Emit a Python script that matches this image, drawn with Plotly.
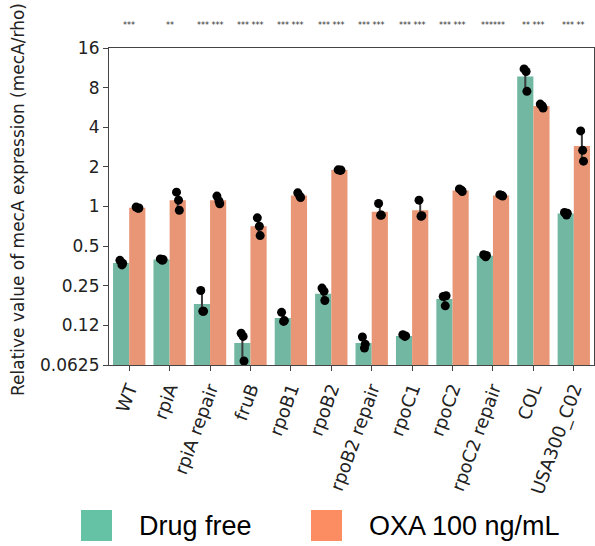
import plotly.graph_objects as go

categories = ["WT", "rpiA", "rpiA repair", "fruB", "rpoB1", "rpoB2", "rpoB2 repair",
              "rpoC1", "rpoC2", "rpoC2 repair", "COL", "USA300_C02"]
drug_free = [0.372, 0.395, 0.182, 0.092, 0.142, 0.217, 0.092, 0.104, 0.198, 0.423, 9.7, 0.884]
oxa_100 = [0.977, 1.117, 1.117, 0.708, 1.213, 1.89, 0.911, 0.937, 1.324, 1.213, 5.81, 2.88]
drug_free_pts = [[0.39, 0.36, 0.37], [0.40, 0.39, 0.395], [0.23, 0.16, 0.16], [0.109, 0.103, 0.067],
                 [0.157, 0.134, 0.136], [0.24, 0.227, 0.193], [0.102, 0.084, 0.09], [0.106, 0.103, 0.104],
                 [0.207, 0.176, 0.21], [0.43, 0.415, 0.425], [11.1, 10.6, 7.5], [0.90, 0.86, 0.89]]
oxa_pts = [[0.99, 0.97, 0.975], [1.285, 1.117, 0.937], [1.20, 1.10, 1.05], [0.82, 0.708, 0.601],
           [1.27, 1.20, 1.17], [1.90, 1.88, 1.89], [1.054, 0.858, 0.86], [1.117, 0.843, 0.85],
           [1.36, 1.33, 1.30], [1.23, 1.21, 1.20], [6.0, 5.8, 5.6], [3.75, 2.67, 2.21]]
star_labels = ["***", "**", "*** ***", "*** ***", "*** ***", "*** ***", "*** ***", "*** ***",
               "*** ***", "******", "** ***", "*** **"]
y_tickvals = [0.0625, 0.125, 0.25, 0.5, 1, 2, 4, 8, 16]
y_ticktext = ["0.0625", "0.12", "0.25", "0.5", "1", "2", "4", "8", "16"]

GREEN_BAR, ORANGE_BAR = "#71b7a1", "#e89675"
GREEN_LEG, ORANGE_LEG = "#66c2a5", "#fc8d62"

W, H = 595, 546
L, R, T, B = 109, 1, 48, 181
PW, PH = W - L - R, H - T - B

def px(x):
    return (x - L) / PW

def py(y):
    return (H - B - y) / PH

fig = go.Figure()
idx = list(range(len(categories)))
jit = [-0.03, 0.02, 0.04]

for vals, pts, off, col in [(drug_free, drug_free_pts, -0.2, GREEN_BAR), (oxa_100, oxa_pts, 0.2, ORANGE_BAR)]:
    fig.add_trace(go.Bar(
        x=[i + off for i in idx], y=vals, width=0.4, marker=dict(color=col, line=dict(width=0)),
        error_y=dict(type="data", symmetric=False,
                     array=[max(p) - v for p, v in zip(pts, vals)],
                     arrayminus=[v - min(p) for p, v in zip(pts, vals)],
                     color="#3a3a3a", thickness=2, width=0),
        showlegend=False))
    xs, ys = [], []
    for i, p in zip(idx, pts):
        for j, v in enumerate(p):
            xs.append(i + off + jit[j])
            ys.append(v)
    fig.add_trace(go.Scatter(x=xs, y=ys, mode="markers",
                             marker=dict(color="black", size=9), showlegend=False))

for i, s in zip(idx, star_labels):
    fig.add_annotation(x=i, y=py(25), xref="x", yref="paper", text=s, showarrow=False,
                       font=dict(size=8, color="#333", family="DejaVu Sans"), yanchor="middle")

fig.add_annotation(x=px(18), y=py(200), xref="paper", yref="paper",
                   text="Relative value of mecA expression (mecA/rho)", textangle=-90,
                   showarrow=False, font=dict(size=17, color="#222", family="DejaVu Sans"),
                   xanchor="center", yanchor="middle")

# legend
for x0, col, label, tx in [(81, GREEN_LEG, "Drug free", 137), (311, ORANGE_LEG, "OXA 100 ng/mL", 367)]:
    fig.add_shape(type="rect", xref="paper", yref="paper", x0=px(x0), x1=px(x0 + 31),
                  y0=py(541), y1=py(510), fillcolor=col, line=dict(width=0))
    fig.add_annotation(x=px(tx), y=py(526), xref="paper", yref="paper", text=label,
                       showarrow=False, xanchor="left", yanchor="middle",
                       font=dict(size=27, color="black", family="Liberation Sans"))

fig.update_layout(
    width=W, height=H, margin=dict(l=L, r=R, t=T, b=B),
    plot_bgcolor="white", paper_bgcolor="white", barmode="overlay",
    font=dict(family="DejaVu Sans", size=16, color="#222"),
    xaxis=dict(range=[-0.5, 11.5], tickvals=idx, ticktext=categories, tickangle=-70,
               ticks="outside", ticklen=5, tickcolor="#444", showline=True, linecolor="#444",
               linewidth=1.2, mirror=True, showgrid=False, zeroline=False,
               tickfont=dict(size=18, family="DejaVu Sans")),
    yaxis=dict(type="log", range=[-1.2041, 1.2041], tickvals=y_tickvals, ticktext=y_ticktext,
               ticks="outside", ticklen=5, tickcolor="#444", showline=True, linecolor="#444",
               linewidth=1.2, mirror=True, showgrid=False, zeroline=False,
               tickfont=dict(size=17, family="DejaVu Sans")),
)

fig.write_html("out.html", config={"displayModeBar": False},
               post_script="document.body.style.margin='0';document.body.style.overflow='hidden';")
